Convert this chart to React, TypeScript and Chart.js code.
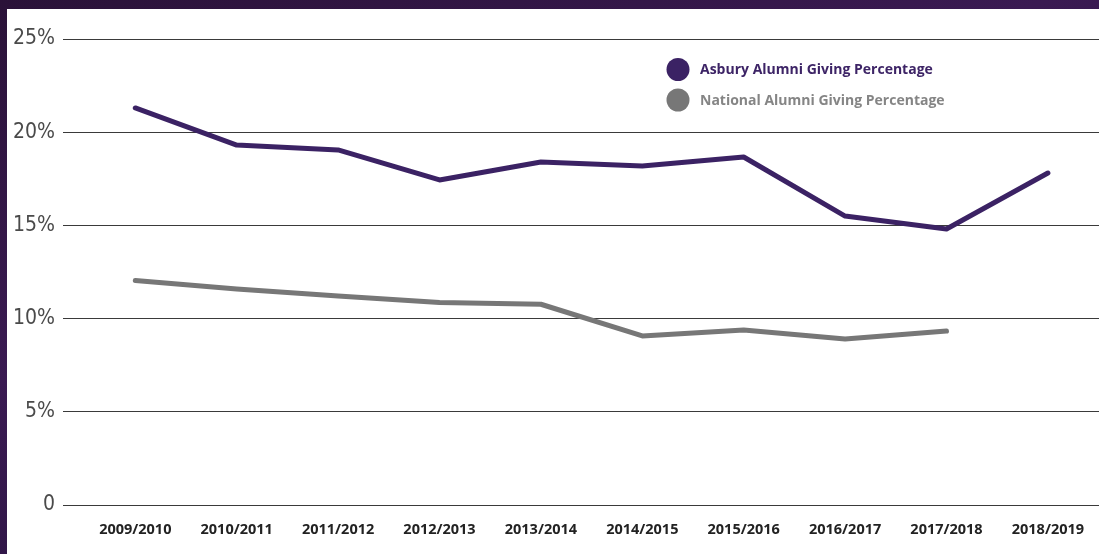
import React, { useEffect, useRef } from 'react';
import { Chart, registerables } from 'chart.js';

Chart.register(...registerables);

const categories = [
  '2009/2010', '2010/2011', '2011/2012', '2012/2013', '2013/2014',
  '2014/2015', '2015/2016', '2016/2017', '2017/2018', '2018/2019',
];
const asburyValues = [21.3, 19.31, 19.05, 17.44, 18.4, 18.19, 18.67, 15.5, 14.81, 17.81];
const nationalValues: (number | null)[] = [12.04, 11.59, 11.21, 10.87, 10.77, 9.07, 9.39, 8.91, 9.33, null];
const yTickValues = [0, 5, 10, 15, 20, 25];
const seriesLabels = ['Asbury Alumni Giving Percentage', 'National Alumni Giving Percentage'];

const PURPLE = '#3b2264';
const GRAY = '#777777';
const LEGEND_TEXT = ['#3d2466', '#858585'];

const legendPlugin = {
  id: 'customLegend',
  afterDraw(chart: any) {
    const ctx = chart.ctx as CanvasRenderingContext2D;
    chart.data.datasets.forEach((ds: any, i: number) => {
      const cy = 60.5 + i * 30.5;
      ctx.save();
      ctx.fillStyle = ds.borderColor;
      ctx.beginPath();
      ctx.arc(671, cy, 11.5, 0, Math.PI * 2);
      ctx.fill();
      ctx.font = 'bold 14px "Open Sans"';
      ctx.fillStyle = LEGEND_TEXT[i];
      ctx.textBaseline = 'middle';
      ctx.textAlign = 'left';
      ctx.fillText(ds.label, 693, cy + 1);
      ctx.restore();
    });
  },
};

export default function App() {
  const canvasRef = useRef<HTMLCanvasElement | null>(null);

  useEffect(() => {
    if (!canvasRef.current) return;
    const chart = new Chart(canvasRef.current, {
      type: 'line',
      data: {
        datasets: [
          {
            label: seriesLabels[0],
            data: asburyValues.map((v, i) => ({ x: i, y: v })),
            borderColor: PURPLE,
            backgroundColor: PURPLE,
            borderWidth: 5,
            borderCapStyle: 'round',
            borderJoinStyle: 'round',
            pointRadius: 0,
            tension: 0,
          },
          {
            label: seriesLabels[1],
            data: nationalValues.map((v, i) => ({ x: i, y: v })),
            borderColor: GRAY,
            backgroundColor: GRAY,
            borderWidth: 5,
            borderCapStyle: 'round',
            borderJoinStyle: 'round',
            pointRadius: 0,
            tension: 0,
            spanGaps: false,
          },
        ],
      },
      options: {
        animation: false,
        responsive: true,
        maintainAspectRatio: false,
        layout: { padding: { top: 30, right: 0, bottom: 0, left: 0 } },
        plugins: {
          legend: { display: false },
          tooltip: { enabled: false },
        },
        scales: {
          x: {
            type: 'linear',
            min: -0.713,
            max: 9.504,
            grid: { display: false },
            border: { display: false },
            afterBuildTicks: (axis: any) => {
              axis.ticks = categories.map((_, i) => ({ value: i }));
            },
            afterFit: (axis: any) => {
              axis.height = 49;
            },
            ticks: {
              autoSkip: false,
              maxRotation: 0,
              padding: 8,
              color: '#222222',
              font: { family: '"Open Sans"', size: 14.5, weight: 'bold' },
              callback: (v: any) => categories[Math.round(Number(v))] ?? '',
            },
          },
          y: {
            min: 0,
            max: 25,
            afterBuildTicks: (axis: any) => {
              axis.ticks = yTickValues.map((v) => ({ value: v }));
            },
            afterFit: (axis: any) => {
              axis.width = 56;
            },
            grid: { color: '#3a3a3a', lineWidth: 1, drawTicks: false },
            border: { display: false },
            ticks: {
              padding: 8,
              color: '#4a4a4a',
              font: {
                family: '"Liberation Sans Narrow", "DejaVu Sans Condensed", Roboto, sans-serif',
                size: 21,
                weight: 300,
              },
              callback: (v: any) => (Number(v) === 0 ? '0' : `${v}%`),
            },
          },
        },
      },
      plugins: [legendPlugin],
    } as any);
    return () => chart.destroy();
  }, []);

  return (
    <div
      style={{
        position: 'fixed',
        left: 0,
        top: 0,
        width: 1099,
        height: 554,
        background: 'linear-gradient(160deg, #2a1238 0%, #3a1a52 40%, #2b1442 70%, #3b1b58 100%)',
      }}
    >
      <div
        style={{
          position: 'absolute',
          left: 7,
          top: 9,
          width: 1092,
          height: 545,
          background: '#ffffff',
        }}
      >
        <canvas ref={canvasRef} />
      </div>
    </div>
  );
}
